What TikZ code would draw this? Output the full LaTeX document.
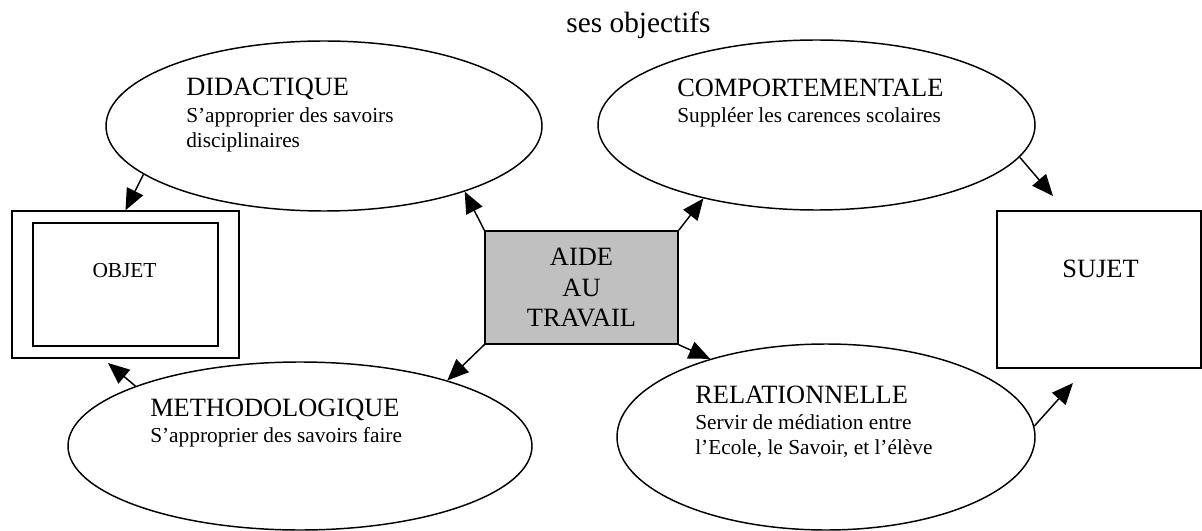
\documentclass[tikz,border=0pt]{standalone}
\usepackage{fontspec}
\setmainfont{Liberation Serif}
\usetikzlibrary{arrows.meta,shapes.geometric}
\begin{document}
\begin{tikzpicture}[x=0.75pt,y=-0.75pt,
  oval/.style={draw, ellipse, line width=1.1pt, inner sep=0pt},
  box/.style={draw, rectangle, line width=1.1pt, inner sep=0pt},
  txt/.style={inner sep=0pt, anchor=base west},
  ctxt/.style={inner sep=0pt, anchor=base},
  ttl/.style={font=\fontsize{19.8}{24}\selectfont},
  sub/.style={font=\fontsize{16}{19}\selectfont},
  arr/.style={line width=1.1pt, -{Triangle[length=16pt,width=13.5pt]}}
]
\useasboundingbox (0,0) rectangle (1202,531);

% title
\node[ctxt, font=\fontsize{22}{26}\selectfont] (title) at (638.5,33) {ses objectifs};

% ellipses
\node[oval, minimum width=327pt, minimum height=127.5pt] (did) at (324,126) {};
\node[oval, minimum width=327.75pt, minimum height=127.5pt] (comp) at (816.5,125) {};
\node[oval, minimum width=348pt, minimum height=126pt] (meth) at (300,446) {};
\node[oval, minimum width=313.5pt, minimum height=139.5pt] (rel) at (826,437) {};

% boxes
\node[box, minimum width=170.25pt, minimum height=110.25pt] (objo) at (125.5,284.5) {};
\node[box, line width=0.9pt, minimum width=138.75pt, minimum height=92.25pt] (obji) at (125.5,284.5) {};
\node[box, fill={rgb,255:red,192;green,192;blue,192}, minimum width=144.75pt, minimum height=84.75pt] (aide) at (581.5,287.5) {};
\node[box, minimum width=153pt, minimum height=117.75pt] (sujet) at (1099,289.5) {};

% texts
\node[txt, ttl] (didT) at (186,96) {DIDACTIQUE};
\node[txt, sub] (didS1) at (186,123) {S’approprier des savoirs};
\node[txt, sub] (didS2) at (186,147) {disciplinaires};

\node[txt, ttl] (compT) at (677,97) {COMPORTEMENTALE};
\node[txt, sub] (compS) at (677,123) {Suppléer les carences scolaires};

\node[txt, ttl] (methT) at (150,416) {METHODOLOGIQUE};
\node[txt, sub] (methS) at (150,442) {S’approprier des savoirs faire};

\node[txt, ttl] (relT) at (695,403) {RELATIONNELLE};
\node[txt, sub] (relS1) at (695,429) {Servir de médiation entre};
\node[txt, sub] (relS2) at (695,454) {l’Ecole, le Savoir, et l’élève};

\node[ctxt, sub] (objT) at (124.5,277) {OBJET};
\node[ctxt, ttl] (sujT) at (1100.5,277) {SUJET};

\node[ctxt, ttl] (aide1) at (581.5,265) {AIDE};
\node[ctxt, ttl] (aide2) at (581.5,296.5) {AU};
\node[ctxt, ttl] (aide3) at (581.5,326) {TRAVAIL};

% free arrow ends
\coordinate (mtip) at (108,363);
\coordinate (ctip) at (1053,196);
\coordinate (rtip) at (1073,383);

% arrows
\draw[arr] (aide.north west) -- (did.-25);
\draw[arr] (aide.north east) -- (comp.213.8);
\draw[arr] (aide.south west) -- (meth.24);
\draw[arr] (aide.south east) -- (rel.146.7);
\draw[arr] (did.195.9) -- (objo.north);
\draw[arr] (meth.160.7) -- (mtip);
\draw[arr] (comp.-9.7) -- (ctip);
\draw[arr] (rel.3.3) -- (rtip);
\end{tikzpicture}
\end{document}
